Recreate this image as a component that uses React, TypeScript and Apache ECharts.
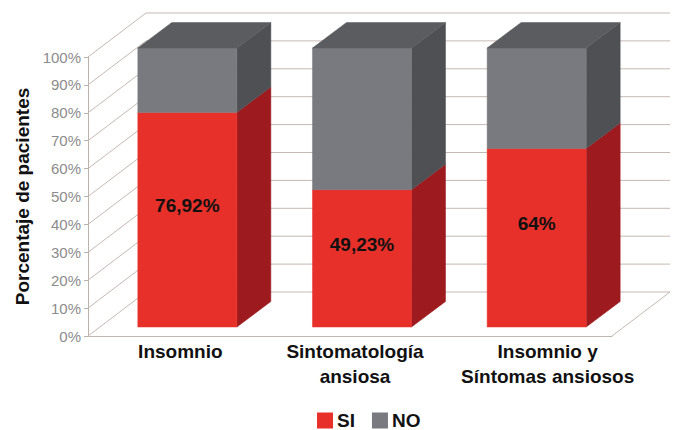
import React, { useEffect, useRef } from "react";
import * as echarts from "echarts";

// Categories and stacked percentages (SI / NO) per group
const categories = ["Insomnio", "Sintomatología\nansiosa", "Insomnio y\nSíntomas ansiosos"];
const siValues = [76.92, 49.23, 64];
const noValues = [23.08, 50.77, 36];
const yTicks = [0, 10, 20, 30, 40, 50, 60, 70, 80, 90, 100];

// Pseudo-3D projection (pixels)
const WALL_DX = 58;
const WALL_DY = -44;
const FRONT_DX = 12;
const FRONT_DY = -9;
const BAR_DX = 34;
const BAR_DY = -25.5;
const BAR_RATIO = 0.567;

const FONT = "'Liberation Sans', Arial, Helvetica, sans-serif";
const GRID_COLOR = "#c6b8b3";

const RED = { front: "#e8302a", side: "#9d1b1e", top: "#c22420" };
const GREY = { front: "#797a7f", side: "#4e5054", top: "#5b5c60" };

const fmt = (v: number) => String(v).replace(".", ",") + "%";

function wallRenderer(params: any, api: any) {
  const v = api.value(1);
  const band = api.size([1, 0])[0];
  const p = api.coord([0, v]);
  const left = p[0] - band / 2;
  const right = left + band * categories.length;
  const y = p[1];
  const children: any[] = [
    {
      type: "line",
      shape: { x1: left, y1: y, x2: left + WALL_DX, y2: y + WALL_DY },
      style: { stroke: GRID_COLOR, lineWidth: 1 },
    },
    {
      type: "line",
      shape: { x1: left + WALL_DX, y1: y + WALL_DY, x2: right + WALL_DX, y2: y + WALL_DY },
      style: { stroke: GRID_COLOR, lineWidth: 1 },
    },
  ];
  if (v === 0) {
    children.push({
      type: "line",
      shape: { x1: right, y1: y, x2: right + WALL_DX, y2: y + WALL_DY },
      style: { stroke: GRID_COLOR, lineWidth: 1 },
    });
  }
  return { type: "group", children };
}

function barRenderer(colors: any, isTop: boolean, withLabel: boolean) {
  return (params: any, api: any) => {
    const idx = api.value(0);
    const start = api.value(1);
    const end = api.value(2);
    const band = api.size([1, 0])[0];
    const pb = api.coord([idx, start]);
    const pt = api.coord([idx, end]);
    const w = band * BAR_RATIO;
    const x0 = pb[0] - w / 2 + FRONT_DX;
    const x1 = x0 + w;
    const yb = pb[1] + FRONT_DY;
    const yt = pt[1] + FRONT_DY;
    const children: any[] = [
      {
        type: "polygon",
        shape: { points: [[x1, yt], [x1 + BAR_DX, yt + BAR_DY], [x1 + BAR_DX, yb + BAR_DY], [x1, yb]] },
        style: { fill: colors.side, stroke: colors.side, lineWidth: 0.5 },
      },
      {
        type: "rect",
        shape: { x: x0, y: yt, width: w, height: yb - yt },
        style: { fill: colors.front, stroke: colors.front, lineWidth: 0.5 },
      },
    ];
    if (isTop) {
      children.push({
        type: "polygon",
        shape: { points: [[x0, yt], [x0 + BAR_DX, yt + BAR_DY], [x1 + BAR_DX, yt + BAR_DY], [x1, yt]] },
        style: { fill: colors.top, stroke: colors.top, lineWidth: 0.5 },
      });
    }
    if (withLabel) {
      children.push({
        type: "text",
        style: {
          text: fmt(end - start),
          x: (x0 + x1) / 2,
          y: (yt + yb) / 2 - 14,
          textAlign: "center",
          textVerticalAlign: "middle",
          fontFamily: FONT,
          fontWeight: "bold",
          fontSize: 19,
          fill: "#111111",
        },
      });
    }
    return { type: "group", children };
  };
}

export default function App() {
  const ref = useRef<HTMLDivElement>(null);

  useEffect(() => {
    if (!ref.current) return;
    const chart = echarts.init(ref.current, undefined, { renderer: "svg" });
    chart.setOption({
      animation: false,
      backgroundColor: "#ffffff",
      textStyle: { fontFamily: FONT },
      grid: { left: 88, right: 68, top: 57, bottom: 94, outerBoundsMode: "none" },
      legend: {
        left: 317,
        top: 411,
        padding: 0,
        icon: "rect",
        itemWidth: 16,
        itemHeight: 16,
        itemGap: 17,
        textStyle: {
          fontFamily: FONT,
          fontWeight: "bold",
          fontSize: 19,
          lineHeight: 16,
          color: "#111111",
          padding: [0, 0, 0, -1],
        },
        data: ["SI", "NO"],
      },
      xAxis: {
        type: "category",
        data: categories,
        axisLine: { show: true, lineStyle: { color: "#bdb6b3", width: 1 } },
        axisTick: { show: false },
        axisLabel: {
          margin: 3,
          interval: 0,
          color: "#111111",
          fontFamily: FONT,
          fontWeight: "bold",
          fontSize: 19,
          lineHeight: 25,
          formatter: (val: string, i: number) => (i === 2 ? `{c|${val}}` : `{n|${val}}`),
          rich: {
            n: { fontFamily: FONT, fontWeight: "bold", fontSize: 19, lineHeight: 25, color: "#111111", padding: [0, 0, 0, 10] },
            c: { fontFamily: FONT, fontWeight: "bold", fontSize: 19, lineHeight: 25, color: "#111111", padding: [0, 0, 0, 46] },
          },
        },
        splitLine: { show: false },
      },
      yAxis: {
        type: "value",
        min: 0,
        max: 100,
        interval: 10,
        name: "Porcentaje de pacientes",
        nameLocation: "middle",
        nameRotate: 90,
        nameGap: 56,
        nameTextStyle: { fontFamily: FONT, fontWeight: "bold", fontSize: 19, color: "#111111" },
        axisLine: { show: true, lineStyle: { color: "#bdb1ac", width: 1 } },
        axisTick: { show: true, length: 4, lineStyle: { color: "#bdb1ac" } },
        axisLabel: { margin: 7, color: "#8c8c8c", fontFamily: FONT, fontSize: 15, formatter: "{value}%" },
        splitLine: { show: false },
      },
      series: [
        {
          type: "custom",
          name: "wall",
          silent: true,
          renderItem: wallRenderer,
          encode: { x: 0, y: 1 },
          data: yTicks.map((v) => [0, v]),
          z: 1,
        },
        {
          type: "custom",
          name: "SI",
          itemStyle: { color: RED.front },
          renderItem: barRenderer(RED, false, true),
          encode: { x: 0, y: [1, 2] },
          data: siValues.map((v, i) => [i, 0, v]),
          z: 3,
        },
        {
          type: "custom",
          name: "NO",
          itemStyle: { color: GREY.front },
          renderItem: barRenderer(GREY, true, false),
          encode: { x: 0, y: [1, 2] },
          data: noValues.map((v, i) => [i, siValues[i], siValues[i] + v]),
          z: 3,
        },
      ],
    });
    return () => chart.dispose();
  }, []);

  return <div ref={ref} style={{ width: 680, height: 430, position: "absolute", left: 0, top: 0 }} />;
}
